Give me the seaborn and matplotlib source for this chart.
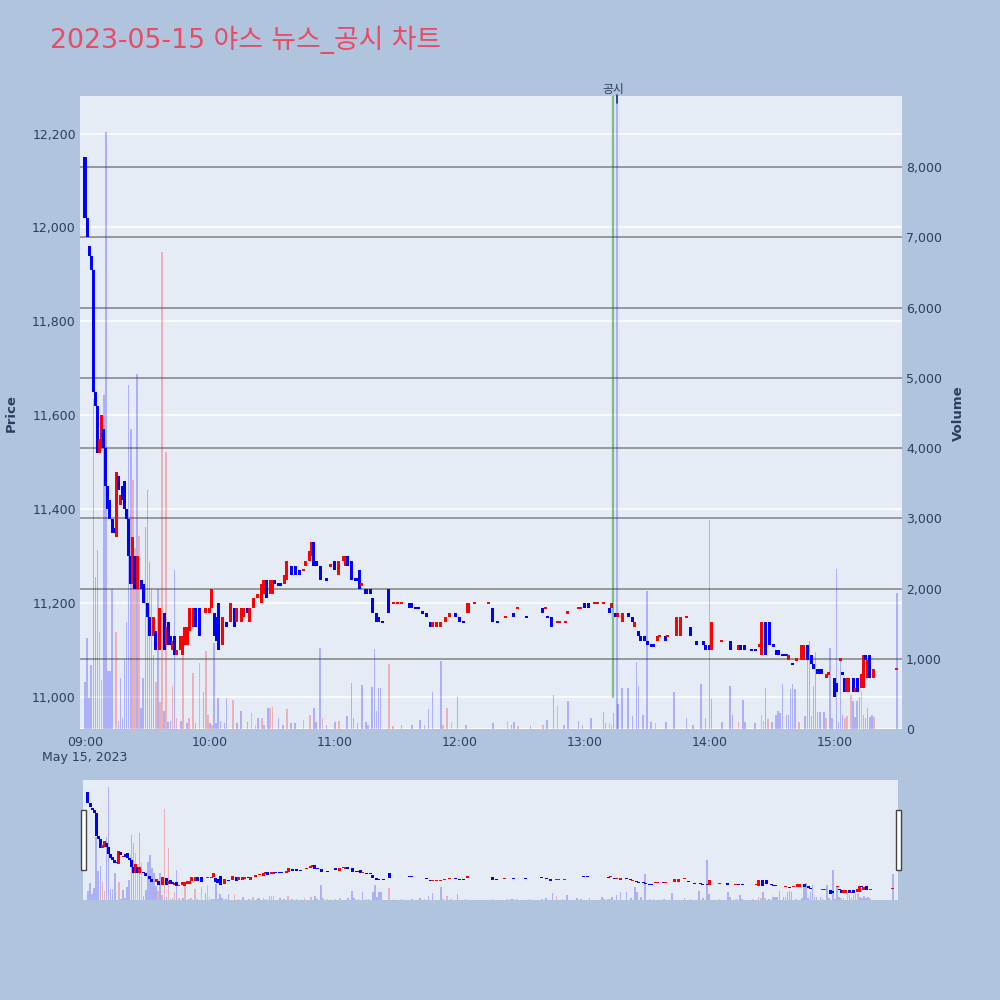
import numpy as np
import pandas as pd
import matplotlib
matplotlib.use("Agg")
import matplotlib.pyplot as plt
import seaborn as sns
from matplotlib.transforms import blended_transform_factory
from matplotlib.patches import Rectangle

# 분봉 데이터: (09:00 이후 분, 시가, 종가, 방향 r=상승 b=하락)
c_09 = [(0, 12150, 12020, 'b'), (1, 12020, 11980, 'b'), (2, 11960, 11940, 'b'), (3, 11940, 11910, 'b'),
        (4, 11910, 11650, 'b'), (5, 11650, 11620, 'b'), (6, 11620, 11520, 'b'), (7, 11520, 11550, 'r'),
        (8, 11530, 11600, 'r'), (9, 11570, 11530, 'b'), (10, 11530, 11450, 'b'), (11, 11450, 11400, 'b'),
        (12, 11420, 11380, 'b'), (13, 11380, 11350, 'b'), (14, 11360, 11350, 'b'), (15, 11340, 11480, 'r'),
        (16, 11470, 11440, 'b'), (17, 11410, 11430, 'r'), (18, 11450, 11420, 'b'), (19, 11460, 11400, 'b'),
        (20, 11400, 11380, 'b'), (21, 11380, 11300, 'b'), (22, 11300, 11240, 'b'), (23, 11240, 11340, 'r'),
        (24, 11300, 11230, 'b'), (25, 11230, 11300, 'r'), (27, 11250, 11230, 'b'), (28, 11240, 11200, 'b'),
        (30, 11200, 11170, 'b'), (31, 11170, 11130, 'b'), (33, 11130, 11170, 'r'), (34, 11140, 11100, 'b'),
        (36, 11100, 11190, 'r'), (38, 11180, 11100, 'b'), (39, 11110, 11150, 'r'), (40, 11160, 11110, 'b'),
        (41, 11130, 11110, 'b'), (42, 11100, 11120, 'r'), (43, 11130, 11090, 'b'), (44, 11090, 11100, 'r'),
        (46, 11100, 11130, 'r'), (47, 11090, 11130, 'r'), (48, 11110, 11150, 'r'), (49, 11110, 11150, 'r'),
        (50, 11140, 11190, 'r'), (52, 11150, 11190, 'r'), (53, 11190, 11150, 'b'), (55, 11190, 11130, 'b'),
        (58, 11180, 11190, 'r')]
c_10 = [(60, 11180, 11190, 'r'), (61, 11190, 11230, 'r'), (62, 11180, 11130, 'b'), (63, 11170, 11120, 'b'),
        (64, 11200, 11100, 'b'), (66, 11110, 11170, 'r'), (68, 11160, 11150, 'b'), (70, 11160, 11200, 'r'),
        (72, 11190, 11150, 'b'), (73, 11160, 11190, 'r'), (75, 11160, 11190, 'r'), (76, 11170, 11190, 'r'),
        (78, 11190, 11180, 'b'), (79, 11160, 11190, 'r'), (81, 11190, 11210, 'r'), (83, 11210, 11220, 'r'),
        (85, 11200, 11240, 'r'), (86, 11220, 11250, 'r'), (87, 11250, 11210, 'b'), (89, 11220, 11250, 'r'),
        (90, 11220, 11250, 'r'), (91, 11250, 11240, 'b'), (93, 11240, 11240, 'b'), (94, 11240, 11240, 'b'),
        (96, 11240, 11260, 'r'), (97, 11250, 11290, 'r'), (99, 11280, 11260, 'b'), (101, 11280, 11260, 'b'),
        (103, 11270, 11260, 'b'), (105, 11270, 11270, 'r'), (106, 11280, 11290, 'r'), (108, 11290, 11310, 'r'),
        (109, 11300, 11330, 'r'), (110, 11330, 11280, 'b'), (111, 11290, 11280, 'b'), (113, 11280, 11250, 'b'),
        (116, 11250, 11250, 'b'), (118, 11280, 11280, 'r')]
c_11 = [(120, 11290, 11270, 'b'), (122, 11260, 11290, 'r'), (124, 11290, 11300, 'r'), (125, 11280, 11300, 'r'),
        (126, 11300, 11280, 'b'), (128, 11290, 11250, 'b'), (130, 11250, 11250, 'b'), (131, 11250, 11250, 'b'),
        (132, 11270, 11230, 'b'), (133, 11240, 11240, 'r'), (135, 11230, 11220, 'b'), (137, 11230, 11220, 'b'),
        (138, 11210, 11180, 'b'), (140, 11180, 11160, 'b'), (141, 11170, 11160, 'b'), (143, 11160, 11160, 'b'),
        (146, 11230, 11180, 'b'), (148, 11200, 11200, 'r'), (150, 11200, 11200, 'r'), (152, 11200, 11200, 'r'),
        (156, 11200, 11190, 'b'), (157, 11200, 11190, 'b'), (159, 11190, 11190, 'b'), (160, 11190, 11190, 'b'),
        (162, 11180, 11180, 'b'), (164, 11180, 11170, 'b'), (166, 11160, 11150, 'b'), (167, 11150, 11160, 'r'),
        (169, 11150, 11160, 'r'), (171, 11150, 11160, 'r'), (173, 11160, 11170, 'r'), (175, 11170, 11180, 'r'),
        (178, 11180, 11170, 'b')]
c_12 = [(180, 11170, 11160, 'b'), (182, 11160, 11160, 'b'), (184, 11180, 11200, 'r'), (187, 11200, 11200, 'r'),
        (194, 11200, 11200, 'r'), (196, 11190, 11160, 'b'), (198, 11160, 11160, 'b'), (202, 11170, 11170, 'r'),
        (206, 11180, 11170, 'b'), (208, 11190, 11190, 'r'), (212, 11170, 11170, 'b'), (220, 11190, 11180, 'b'),
        (221, 11190, 11190, 'r'), (222, 11170, 11170, 'b'), (224, 11170, 11150, 'b'), (227, 11160, 11160, 'r'),
        (228, 11160, 11160, 'r'), (231, 11160, 11160, 'r'), (232, 11180, 11180, 'r'), (237, 11190, 11190, 'r'),
        (238, 11190, 11190, 'r')]
c_13 = [(240, 11200, 11190, 'b'), (242, 11200, 11190, 'b'), (245, 11200, 11200, 'r'), (246, 11200, 11200, 'r'),
        (249, 11200, 11200, 'r'), (252, 11190, 11180, 'b'), (253, 11190, 11200, 'r'), (255, 11180, 11170, 'b'),
        (256, 11170, 11180, 'r'), (258, 11160, 11180, 'r'), (261, 11180, 11170, 'b'), (263, 11170, 11160, 'b'),
        (264, 11150, 11160, 'r'), (266, 11140, 11130, 'b'), (267, 11130, 11120, 'b'), (269, 11130, 11120, 'b'),
        (270, 11120, 11110, 'b'), (272, 11110, 11110, 'b'), (273, 11110, 11110, 'b'), (275, 11120, 11130, 'r'),
        (276, 11130, 11130, 'r'), (279, 11130, 11120, 'b'), (280, 11130, 11130, 'r'), (284, 11130, 11170, 'r'),
        (286, 11130, 11170, 'r'), (289, 11170, 11170, 'r'), (291, 11150, 11130, 'b'), (294, 11120, 11110, 'b'),
        (297, 11120, 11110, 'b'), (298, 11110, 11100, 'b')]
c_14 = [(300, 11110, 11100, 'b'), (301, 11100, 11160, 'r'), (306, 11120, 11120, 'r'), (310, 11120, 11100, 'b'),
        (314, 11100, 11110, 'r'), (315, 11110, 11100, 'b'), (317, 11110, 11100, 'b'), (320, 11100, 11100, 'b'),
        (322, 11100, 11100, 'b'), (324, 11110, 11110, 'r'), (325, 11090, 11160, 'r'), (327, 11160, 11090, 'b'),
        (329, 11160, 11110, 'b'), (331, 11110, 11110, 'b'), (332, 11100, 11090, 'b'), (333, 11100, 11090, 'b'),
        (335, 11090, 11090, 'b'), (336, 11090, 11090, 'b'), (337, 11090, 11090, 'b'), (338, 11080, 11090, 'r'),
        (340, 11070, 11070, 'b'), (342, 11080, 11080, 'r'), (344, 11080, 11110, 'r'), (345, 11080, 11110, 'r'),
        (347, 11110, 11080, 'b'), (349, 11090, 11070, 'b'), (350, 11070, 11060, 'b'), (352, 11060, 11050, 'b'),
        (353, 11060, 11050, 'b'), (354, 11060, 11050, 'b'), (356, 11040, 11050, 'r'), (357, 11050, 11050, 'r')]
c_15 = [(360, 11040, 11000, 'b'), (361, 11030, 11010, 'b'), (363, 11080, 11080, 'r'), (364, 11050, 11050, 'b'),
        (365, 11040, 11010, 'b'), (366, 11010, 11040, 'r'), (367, 11010, 11040, 'r'), (369, 11040, 11010, 'b'),
        (370, 11010, 11020, 'r'), (371, 11040, 11010, 'b'), (373, 11020, 11050, 'r'), (374, 11020, 11090, 'r'),
        (375, 11090, 11080, 'b'), (376, 11040, 11080, 'r'), (377, 11090, 11040, 'b'), (379, 11040, 11060, 'r'),
        (390, 11060, 11060, 'r')]

# 거래량: (분, 거래량, 방향)
v_09 = [(0, 670, 'b'), (1, 1300, 'b'), (2, 440, 'b'), (3, 910, 'b'), (4, 4700, 'b'), (5, 2170, 'b'),
        (6, 2550, 'b'), (7, 1380, 'r'), (8, 700, 'r'), (9, 4750, 'b'), (10, 8500, 'b'), (11, 830, 'b'),
        (12, 830, 'b'), (13, 2000, 'b'), (15, 1380, 'r'), (16, 110, 'b'), (17, 720, 'b'), (18, 150, 'b'),
        (19, 1000, 'b'), (20, 1530, 'b'), (21, 4900, 'b'), (22, 4270, 'b'), (23, 3550, 'r'), (24, 2580, 'r'),
        (25, 5050, 'b'), (26, 2750, 'r'), (27, 300, 'b'), (28, 720, 'b'), (29, 2880, 'b'), (30, 3410, 'b'),
        (31, 2380, 'b'), (32, 2000, 'b'), (33, 1050, 'b'), (34, 670, 'r'), (35, 2000, 'b'), (36, 385, 'r'),
        (37, 6800, 'r'), (38, 260, 'b'), (39, 3940, 'r'), (40, 100, 'b'), (41, 120, 'b'), (42, 610, 'r'),
        (43, 2270, 'b'), (44, 150, 'r'), (46, 120, 'b'), (47, 1050, 'r'), (49, 80, 'b'), (50, 150, 'r'),
        (52, 800, 'r'), (53, 80, 'b'), (55, 940, 'r'), (57, 530, 'b'), (58, 1110, 'r'), (59, 200, 'r')]
v_10 = [(60, 80, 'b'), (61, 60, 'r'), (62, 1220, 'b'), (63, 80, 'b'), (64, 440, 'b'), (65, 120, 'b'),
        (67, 80, 'b'), (68, 440, 'b'), (71, 420, 'r'), (73, 80, 'b'), (75, 260, 'b'), (78, 100, 'b'),
        (80, 230, 'r'), (82, 60, 'r'), (83, 150, 'b'), (85, 150, 'r'), (86, 60, 'b'), (88, 300, 'b'),
        (89, 300, 'r'), (90, 310, 'r'), (93, 150, 'b'), (95, 60, 'b'), (97, 280, 'r'), (99, 80, 'b'),
        (101, 80, 'b'), (105, 130, 'r'), (108, 200, 'r'), (110, 300, 'b'), (111, 100, 'b'), (113, 1160, 'b'),
        (114, 150, 'r'), (116, 60, 'b')]
v_11 = [(120, 100, 'b'), (122, 120, 'r'), (126, 180, 'b'), (128, 660, 'b'), (129, 150, 'b'), (131, 80, 'b'),
        (133, 620, 'b'), (135, 100, 'b'), (136, 60, 'b'), (138, 600, 'b'), (139, 1140, 'b'), (140, 250, 'b'),
        (141, 580, 'b'), (142, 580, 'b'), (146, 920, 'r'), (148, 40, 'r'), (152, 60, 'b'), (157, 60, 'b'),
        (161, 130, 'b'), (163, 60, 'b'), (165, 280, 'b'), (167, 520, 'b'), (171, 970, 'b'), (172, 50, 'r'),
        (174, 300, 'r'), (176, 100, 'r'), (179, 450, 'b')]
v_12 = [(183, 60, 'b'), (196, 80, 'b'), (203, 110, 'r'), (205, 60, 'b'), (206, 100, 'b'), (208, 40, 'r'),
        (214, 40, 'b'), (220, 60, 'r'), (222, 130, 'b'), (225, 490, 'b'), (227, 330, 'r'), (230, 60, 'b'),
        (232, 400, 'b'), (237, 120, 'b'), (239, 50, 'b')]
v_13 = [(243, 150, 'b'), (249, 240, 'b'), (250, 80, 'b'), (252, 80, 'r'), (253, 60, 'r'), (254, 230, 'b'),
        (256, 360, 'b'), (258, 590, 'b'), (261, 590, 'b'), (263, 180, 'b'), (265, 950, 'b'), (266, 610, 'b'),
        (268, 200, 'b'), (270, 1960, 'b'), (272, 100, 'b'), (274, 80, 'r'), (279, 100, 'b'), (283, 530, 'b'),
        (289, 150, 'b'), (292, 50, 'b'), (296, 640, 'b'), (298, 160, 'b')]
v_14 = [(300, 2970, 'b'), (301, 430, 'b'), (306, 100, 'b'), (310, 610, 'b'), (311, 200, 'b'), (314, 100, 'r'),
        (316, 410, 'b'), (317, 100, 'b'), (322, 80, 'b'), (325, 200, 'r'), (326, 120, 'r'), (327, 590, 'b'),
        (328, 140, 'r'), (330, 100, 'b'), (332, 200, 'b'), (333, 260, 'b'), (334, 230, 'b'), (335, 640, 'b'),
        (337, 200, 'b'), (338, 200, 'b'), (339, 570, 'b'), (340, 640, 'b'), (341, 570, 'b'), (343, 100, 'r'),
        (346, 180, 'b'), (347, 1160, 'b'), (348, 1250, 'b'), (349, 180, 'b'), (350, 610, 'b'), (351, 1090, 'b'),
        (352, 240, 'b'), (353, 240, 'b'), (355, 240, 'b'), (356, 150, 'r'), (358, 1160, 'b'), (359, 150, 'b')]
v_15 = [(361, 2280, 'b'), (362, 100, 'b'), (363, 970, 'b'), (364, 200, 'b'), (365, 150, 'r'), (366, 180, 'r'),
        (368, 490, 'r'), (369, 400, 'b'), (370, 170, 'b'), (371, 400, 'b'), (372, 450, 'b'), (373, 540, 'r'),
        (374, 200, 'b'), (375, 150, 'b'), (376, 300, 'b'), (377, 170, 'b'), (378, 200, 'b'), (379, 170, 'r'),
        (390, 1940, 'b')]

price_ticks = [11000, 11200, 11400, 11600, 11800, 12000, 12200]
vol_ticks = [0, 1000, 2000, 3000, 4000, 5000, 6000, 7000, 8000]
x_ticks = [0, 60, 120, 180, 240, 300, 360]
x_labels = ['09:00\nMay 15, 2023', '10:00', '11:00', '12:00', '13:00', '14:00', '15:00']
notice_min = 253.6      # 공시 시각 (13:14 무렵)
notice_line_min = 255.4

BG = '#E5ECF6'
PAPER = '#B0C4DE'
FONT_C = '#2a3f5f'
UP, DOWN = '#FF0000', '#0000FF'

candles = pd.DataFrame(c_09 + c_10 + c_11 + c_12 + c_13 + c_14 + c_15,
                       columns=['minute', 'open', 'close', 'dir'])
vols = pd.DataFrame(v_09 + v_10 + v_11 + v_12 + v_13 + v_14 + v_15,
                    columns=['minute', 'volume', 'dir'])

sns.set_theme(style='white')
plt.rcParams['font.family'] = ['DejaVu Sans', 'Noto Sans CJK KR']

XLIM = (-2.4, 392.5)
PLIM = (10932, 12280)
VLIM = (0, 9015)


def draw_candles(ax, df, width=1.45, min_h=5):
    lo = df[['open', 'close']].min(axis=1)
    hi = df[['open', 'close']].max(axis=1)
    body = (hi - lo)
    height = body.clip(lower=min_h)
    bottom = np.where(body < min_h, lo - min_h / 2, lo)
    colors = np.where(df['dir'] == 'r', UP, DOWN)
    ax.bar(df['minute'], height, bottom=bottom, width=width, color=colors, linewidth=0, zorder=3)


def draw_volume(ax, df):
    for d, col in [('b', DOWN), ('r', UP)]:
        sub = df[df['dir'] == d]
        sns.barplot(data=sub, x='minute', y='volume', native_scale=True, width=0.75,
                    color=col, alpha=0.25, saturation=1, errorbar=None, linewidth=0,
                    ax=ax, zorder=2)
    ax.set_xlabel('')
    ax.set_ylabel('')


fig = plt.figure(figsize=(10, 10), dpi=100, facecolor=PAPER)

# --- 메인 차트 ---
ax = fig.add_axes([0.080, 0.271, 0.822, 0.633])
ax2 = ax.twinx()
ax.set_zorder(2)
ax2.set_zorder(1)
ax.patch.set_visible(False)
ax2.patch.set_visible(True)
ax2.patch.set_facecolor(BG)

draw_volume(ax2, vols)
draw_candles(ax, candles)

ax.set_xlim(XLIM)
ax.set_ylim(PLIM)
ax2.set_ylim(VLIM)

# 그리드: 가격(흰색), 거래량(회색) 모두 거래량 막대 아래
tr = blended_transform_factory(ax2.transAxes, ax.transData)
for p in price_ticks:
    ax2.plot([0, 1], [p, p], transform=tr, color='white', lw=1.1, zorder=0.5)
for v in vol_ticks[1:]:
    ax2.axhline(v, color='#8a8a8a', lw=1.2, zorder=0.6)
ax2.axhline(0, color='white', lw=2, zorder=0.6)

# 공시 표시선
ax.plot([notice_min, notice_min], [11000, PLIM[1]], color='green', alpha=0.45, lw=1.6, zorder=4)
ax.axvline(notice_line_min, color=DOWN, alpha=0.25, lw=1.6, zorder=4)

ax.set_yticks(price_ticks)
ax.set_yticklabels([f'{p:,}' for p in price_ticks])
ax2.set_yticks(vol_ticks)
ax2.set_yticklabels([f'{v:,}' for v in vol_ticks])
ax.set_xticks(x_ticks)
ax.set_xticklabels(x_labels)
ax.set_xlim(XLIM)
ax.tick_params(axis='y', length=0, pad=3, labelsize=9, labelcolor=FONT_C)
ax2.tick_params(axis='y', length=0, pad=3, labelsize=9, labelcolor=FONT_C)
ax.tick_params(axis='x', length=0, pad=5, labelsize=9, labelcolor=FONT_C)
ax.grid(False)
ax2.grid(False)
for a in (ax, ax2):
    for s in a.spines.values():
        s.set_visible(False)

# --- 레인지 슬라이더 ---
rs = fig.add_axes([0.083, 0.100, 0.815, 0.120])
rs2 = rs.twinx()
rs.set_zorder(2)
rs2.set_zorder(1)
rs.patch.set_visible(False)
rs2.patch.set_visible(True)
rs2.patch.set_facecolor(BG)
draw_volume(rs2, vols)
draw_candles(rs, candles, min_h=8)
rs.set_xlim(XLIM)
rs.set_ylim(PLIM)
rs2.set_ylim(VLIM)
for a in (rs, rs2):
    a.set_xticks([])
    a.set_yticks([])
    a.grid(False)
    for s in a.spines.values():
        s.set_visible(False)
rs.set_xlim(XLIM)
for hx in (0.0805, 0.8955):
    fig.patches.append(Rectangle((hx, 0.130), 0.005, 0.060, transform=fig.transFigure,
                                 facecolor='white', edgecolor='#444444', lw=1, zorder=10))

# --- 텍스트 ---
fig.text(0.05, 0.960, '2023-05-15 야스 뉴스_공시 차트', fontsize=19.3, color='#EA4A63',
         ha='left', va='center')
fig.text(0.011, 0.587, 'Price', rotation=90, fontsize=9.5, fontweight='bold',
         color=FONT_C, ha='center', va='center')
fig.text(0.958, 0.587, 'Volume', rotation=90, fontsize=9.5, fontweight='bold',
         color=FONT_C, ha='center', va='center')
fig.text(0.613, 0.910, '공시', fontsize=8.5, color=FONT_C, ha='center', va='center')
fig.add_artist(plt.Line2D([0.617, 0.617], [0.897, 0.905], transform=fig.transFigure,
                          color=FONT_C, lw=1.2))

fig.savefig('out.png', dpi=100, facecolor=fig.get_facecolor())
